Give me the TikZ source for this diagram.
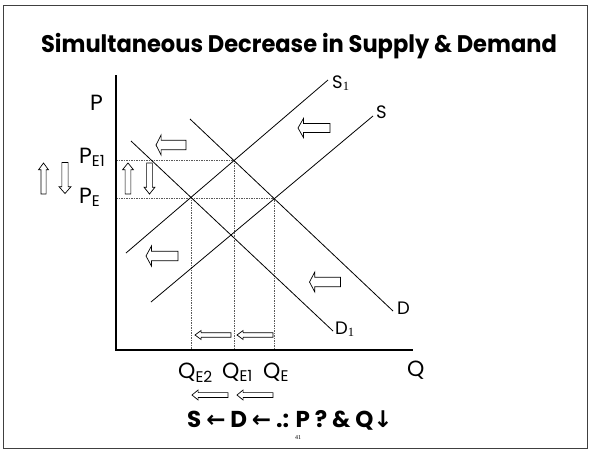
\documentclass[tikz,border=0pt]{standalone}
\usepackage{fontspec}
\setmainfont{Poppins}
\newfontfamily\subserif{Liberation Serif}
\newfontfamily\symfont{DejaVu Sans}

\begin{document}
\begin{tikzpicture}[x=1pt, y=-1pt,
    curve/.style={line width=0.8pt, black},
    guide/.style={line width=0.6pt, black!65, dash pattern=on 1.5pt off 1pt},
    blockline/.style={line width=0.7pt, black, fill=white},
    axislbl/.style={font=\fontsize{22}{22}\selectfont, inner sep=0pt, anchor=base west},
    curvelbl/.style={font=\fontsize{18}{18}\selectfont, inner sep=0pt, anchor=base west},
    pics/leftblock/.style 2 args={code={
        \draw[blockline] (-#1/2,0) -- (-#1/2+0.17*#1,-#2/2) -- (-#1/2+0.17*#1,-0.24*#2)
            -- (#1/2,-0.24*#2) -- (#1/2,0.24*#2) -- (-#1/2+0.17*#1,0.24*#2)
            -- (-#1/2+0.17*#1,#2/2) -- cycle;}},
    pics/upblock/.style 2 args={code={
        \draw[blockline] (0,-#1/2) -- (#2/2,-#1/2+0.22*#1) -- (0.26*#2,-#1/2+0.22*#1)
            -- (0.26*#2,#1/2) -- (-0.26*#2,#1/2) -- (-0.26*#2,-#1/2+0.22*#1)
            -- (-#2/2,-#1/2+0.22*#1) -- cycle;}},
    pics/downblock/.style 2 args={code={
        \draw[blockline] (0,#1/2) -- (#2/2,#1/2-0.22*#1) -- (0.26*#2,#1/2-0.22*#1)
            -- (0.26*#2,-#1/2) -- (-0.26*#2,-#1/2) -- (-0.26*#2,#1/2-0.22*#1)
            -- (-#2/2,#1/2-0.22*#1) -- cycle;}}]

    % 1. Slide frame
    \useasboundingbox (0,0) rectangle (590,451);
    \draw[line width=0.8pt, black!75] (3,5) rectangle (587,448);

    % 2. Title
    \node[font=\bfseries\fontsize{24}{24}\selectfont, inner sep=0pt, anchor=base,
        xscale=0.94, transform shape]
        (title) at (299,52) {Simultaneous Decrease in Supply \& Demand};

    % 3. Axes P and Q
    \coordinate (O) at (116,350);
    \coordinate (ptop) at (116,75);
    \coordinate (qend) at (413,350);

    % 4. Supply and demand lines
    \coordinate (s1a) at (126,253); \coordinate (s1b) at (328,80);
    \coordinate (sa)  at (151,302); \coordinate (sb)  at (373,116);
    \coordinate (da)  at (190,119); \coordinate (db)  at (393,311);
    \coordinate (d1a) at (131,141); \coordinate (d1b) at (333,331);

    % equilibrium points
    \coordinate (E)  at (intersection of sa--sb and da--db);
    \coordinate (E1) at (intersection of s1a--s1b and da--db);
    \coordinate (E2) at (intersection of s1a--s1b and d1a--d1b);

    % 5. Dotted guides (drawn first)
    \draw[guide] (O |- E1) -- (E1) -- (E1 |- O);
    \draw[guide] (O |- E) -- (E) -- (E |- O);
    \draw[guide] (E2) -- (E2 |- O);

    \draw[line width=1.5pt] (ptop) -- (O) -- (qend);
    \draw[curve] (s1a) -- (s1b);
    \draw[curve] (sa) -- (sb);
    \draw[curve] (da) -- (db);
    \draw[curve] (d1a) -- (d1b);

    % 6. Labels
    \node[axislbl] (lblP) at (90,110) {P};
    \node[axislbl] (lblQ) at (407,376) {Q};
    \node[axislbl] (lblPE1) at (79,163) {P\textsubscript{E1}};
    \node[axislbl] (lblPE) at (79,203) {P\textsubscript{E}};
    \node[axislbl] (lblQE2) at (178,378) {Q\textsubscript{E2}};
    \node[axislbl] (lblQE1) at (222,378) {Q\textsubscript{E1}};
    \node[axislbl] (lblQE) at (263,378) {Q\textsubscript{E}};
    \node[curvelbl] (lblS1) at (332,88) {S\textsubscript{\subserif 1}};
    \node[curvelbl] (lblS) at (376,118) {S};
    \node[curvelbl] (lblD) at (397,314) {D};
    \node[curvelbl] (lblD1) at (335,334) {D\textsubscript{\subserif 1}};

    % 7. Shift arrows
    \pic at (171,145) {leftblock={30}{20}};
    \pic at (314,128) {leftblock={32}{19}};
    \pic at (162,256) {leftblock={32}{20}};
    \pic at (325,282) {leftblock={31}{20}};
    \pic at (213,335) {leftblock={36}{9}};
    \pic at (255,335) {leftblock={36}{9}};
    \pic at (210,395) {leftblock={36}{10}};
    \pic at (255,395) {leftblock={36}{10}};
    % price up / down
    \pic at (128,178.5) {upblock={31}{11}};
    \pic at (149.5,178.5) {downblock={31}{11}};
    \pic at (43.5,178.5) {upblock={31}{10}};
    \pic at (65,178) {downblock={31}{12}};

    % 8. Summary line
    \node[font=\bfseries\fontsize{23}{23}\selectfont, inner sep=0pt, anchor=base]
        (summary) at (290,427) {S {\symfont←} D {\symfont←}\ .: P ? \& Q{\symfont↓}};
    \node[font=\subserif\fontsize{6}{6}\selectfont, inner sep=0pt] (pagenum) at (298,438) {41};
\end{tikzpicture}
\end{document}
